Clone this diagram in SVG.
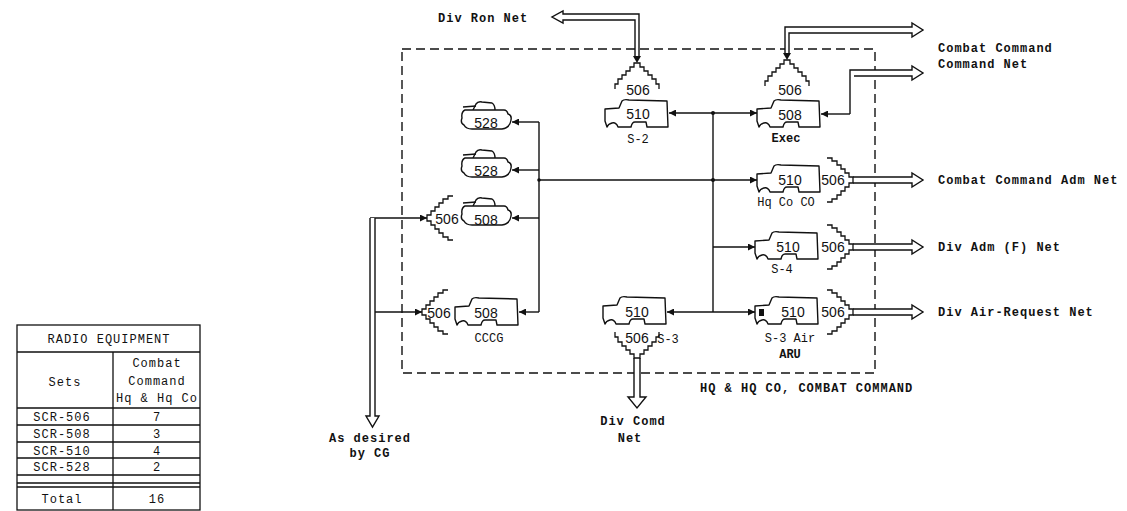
<svg xmlns="http://www.w3.org/2000/svg" width="1127" height="511" viewBox="0 0 1127 511">
<style>
.ln{fill:none;stroke:#111;stroke-width:1.4}
.hol{fill:#fff;stroke:#111;stroke-width:1.4;stroke-linejoin:miter}
.veh{fill:#fff;stroke:#111;stroke-width:1.4;stroke-linejoin:round}
.ant{fill:none;stroke:#111;stroke-width:1.3}
.box{fill:none;stroke:#111;stroke-width:1.4;stroke-dasharray:9 5}
.num{font-family:"Liberation Sans",Arial,sans-serif;font-size:14px;fill:#111;text-anchor:middle}
.lbl{font-family:"Liberation Mono","Courier New",monospace;font-size:12px;fill:#111;text-anchor:middle}
.net{font-family:"Liberation Mono","Courier New",monospace;font-size:12px;font-weight:bold;fill:#111;letter-spacing:1px}
.tbl{font-family:"Liberation Mono","Courier New",monospace;font-size:12px;fill:#111;text-anchor:middle;letter-spacing:1px}
.tl{fill:none;stroke:#111;stroke-width:1.3}
</style>
<defs>
<marker id="a" viewBox="0 0 10 10" refX="10" refY="5" markerWidth="9" markerHeight="7" markerUnits="userSpaceOnUse" orient="auto">
<path d="M0,0 L10,5 L0,10 z" fill="#111"/>
</marker>
<path id="ant" class="ant" d="M0,0 h-3 v4 h-4 v4 h-4 v4 h-4 v4 h-4 v5 h-3 v5 M0,0 h3 v4 h4 v4 h4 v4 h4 v4 h4 v5 h3 v5"/>
<path id="truck" class="veh" d="M0,10 L14,9 L17,2 Q19,0 24,1 L62,2 L63,28 L42,28 L41,23 L30,23 Q27,23 26,28 L13,28 Q11,23 7,24 Q3,25 2,28 L0,22 Z"/>
<g id="tank">
<path class="veh" d="M13,9 L16,3 Q18,0 22,1 L32,2 Q35,4 35,9"/>
<path class="ln" d="M16,5 L3,6"/>
<path class="veh" d="M5,9 L44,9 Q47,9 48,13 Q52,14 51,19 Q50,27 42,28 L12,28 Q6,28 4,24 Q0,22 2,17 Q1,11 5,9 Z"/>
</g>
</defs>

<rect x="402" y="49" width="473" height="324" class="box"/>

<g id="connectors">
<path class="ln" d="M713,113 V312"/>
<path class="ln" d="M713,113 H669" marker-end="url(#a)"/>
<path class="ln" d="M713,113 H757" marker-end="url(#a)"/>
<path class="ln" d="M539,180 H757" marker-end="url(#a)"/>
<path class="ln" d="M713,247 H755" marker-end="url(#a)"/>
<path class="ln" d="M713,312 H755" marker-end="url(#a)"/>
<path class="ln" d="M713,312 H667" marker-end="url(#a)"/>
<path class="ln" d="M539,122 V312"/>
<path class="ln" d="M539,122 H512" marker-end="url(#a)"/>
<path class="ln" d="M539,170 H512" marker-end="url(#a)"/>
<path class="ln" d="M539,218 H512" marker-end="url(#a)"/>
<path class="ln" d="M539,312 H519" marker-end="url(#a)"/>
<path class="ln" d="M370,218 H427" marker-end="url(#a)"/>
<path class="ln" d="M375,312 H422" marker-end="url(#a)"/>
<path class="ln" d="M850,114 H821" marker-end="url(#a)"/>
<circle cx="713" cy="113" r="2" fill="#111"/>
<circle cx="713" cy="180" r="2" fill="#111"/>
<circle cx="539" cy="180" r="1.8" fill="#111"/>
<path class="hol" d="M639,56 V14 H563 V11 L552,17 L563,23 V20 H635 V56"/>
<polygon points="633,56 641,56 637,63" fill="#111"/>
<path class="hol" d="M789,53 V33 H912 V37 L923,30 L912,23 V27 H785 V53"/>
<polygon points="783,53 791,53 787,60" fill="#111"/>
<path class="hol" d="M850,114 V70 H912 V66 L923,73 L912,80 V76 H854"/>
<path class="hol" d="M853,177 H912 V173 L923,180 L912,187 V183 H853"/>
<path class="hol" d="M853,244 H912 V240 L923,247 L912,254 V250 H853"/>
<path class="hol" d="M853,309 H912 V305 L923,312 L912,319 V315 H853"/>
<path class="hol" d="M634,358 V397 H628 L637,408 L646,397 H640 V358"/>
<path class="hol" d="M370,218 V416 H366 L372.5,427 L379,416 H375 V218"/>
</g>

<g id="s2">
<use href="#ant" x="637" y="63"/>
<text class="num" x="638" y="95">506</text>
<use href="#truck" x="605" y="99"/>
<text class="num" x="638" y="119">510</text>
<text class="lbl" x="638" y="143">S-2</text>
</g>
<g id="exec">
<use href="#ant" x="787" y="60"/>
<text class="num" x="790" y="95">506</text>
<use href="#truck" x="757" y="99"/>
<text class="num" x="790" y="120">508</text>
<text class="lbl" x="786" y="142" font-weight="bold">Exec</text>
</g>
<g id="hqcoco">
<use href="#truck" x="757" y="164"/>
<text class="num" x="790" y="185">510</text>
<use href="#ant" transform="translate(853,180) rotate(90)"/>
<text class="num" x="833" y="185">506</text>
<text class="lbl" x="786" y="206">Hq Co CO</text>
</g>
<g id="s4">
<use href="#truck" x="755" y="231"/>
<text class="num" x="788" y="252">510</text>
<use href="#ant" transform="translate(853,247) rotate(90)"/>
<text class="num" x="833" y="252">506</text>
<text class="lbl" x="782" y="273">S-4</text>
</g>
<g id="s3air">
<use href="#truck" x="755" y="296"/>
<rect x="759" y="309" width="5" height="7" fill="#111"/>
<text class="num" x="793" y="317">510</text>
<use href="#ant" transform="translate(853,312) rotate(90)"/>
<text class="num" x="833" y="317">506</text>
<text class="lbl" x="790" y="342">S-3 Air</text>
<text class="lbl" x="790" y="358" font-weight="bold">ARU</text>
</g>
<g id="s3">
<use href="#truck" x="603" y="296"/>
<text class="num" x="637" y="317">510</text>
<use href="#ant" transform="translate(637,358) rotate(180)"/>
<text class="num" x="637" y="343">506</text>
<text class="lbl" x="668" y="343" text-anchor="start">S-3</text>
</g>
<g id="cccg">
<use href="#ant" transform="translate(422,312) rotate(-90)"/>
<text class="num" x="439" y="318">506</text>
<use href="#truck" x="455" y="297"/>
<text class="num" x="486" y="318">508</text>
<text class="lbl" x="489" y="342">CCCG</text>
</g>
<g id="r506-508">
<use href="#ant" transform="translate(427,218) rotate(-90)"/>
<text class="num" x="447" y="224">506</text>
<use href="#tank" x="460" y="197"/>
<text class="num" x="486" y="225">508</text>
</g>
<g id="r528-1">
<use href="#tank" x="460" y="101"/>
<text class="num" x="486" y="128">528</text>
</g>
<g id="r528-2">
<use href="#tank" x="460" y="149"/>
<text class="num" x="486" y="176">528</text>
</g>

<g id="labels">
<text class="net" x="438" y="22">Div Ron Net</text>
<text class="net" x="938" y="52" font-weight="normal">Combat Command</text>
<text class="net" x="938" y="68" font-weight="normal">Command Net</text>
<text class="net" x="938" y="184">Combat Command Adm Net</text>
<text class="net" x="938" y="251">Div Adm (F) Net</text>
<text class="net" x="938" y="316">Div Air-Request Net</text>
<text class="net" x="700" y="392" font-weight="normal">HQ &amp; HQ CO, COMBAT COMMAND</text>
<text class="net" x="633" y="425" text-anchor="middle">Div Comd</text>
<text class="net" x="630" y="442" text-anchor="middle">Net</text>
<text class="net" x="370" y="442" text-anchor="middle">As desired</text>
<text class="net" x="370" y="457" text-anchor="middle">by CG</text>
</g>

<g id="radio-equipment-table">
<rect x="17" y="325" width="183" height="185" class="tl"/>
<path class="tl" d="M17,352 H200 M113,352 V510 M17,408 H200 M17,425 H200 M17,442 H200 M17,458 H200 M17,475 H200 M17,483 H200 M17,487 H200"/>
<text class="tbl" x="109" y="343" letter-spacing="1.5px">RADIO EQUIPMENT</text>
<text class="tbl" x="65" y="386">Sets</text>
<text class="tbl" x="157" y="367">Combat</text>
<text class="tbl" x="157" y="385">Command</text>
<text class="tbl" x="157" y="402">Hq &amp; Hq Co</text>
<text class="tbl" x="62" y="421">SCR-506</text>
<text class="tbl" x="157" y="421">7</text>
<text class="tbl" x="62" y="438">SCR-508</text>
<text class="tbl" x="157" y="438">3</text>
<text class="tbl" x="62" y="455">SCR-510</text>
<text class="tbl" x="157" y="455">4</text>
<text class="tbl" x="62" y="471">SCR-528</text>
<text class="tbl" x="157" y="471">2</text>
<text class="tbl" x="62" y="503">Total</text>
<text class="tbl" x="157" y="503">16</text>
</g>
</svg>
